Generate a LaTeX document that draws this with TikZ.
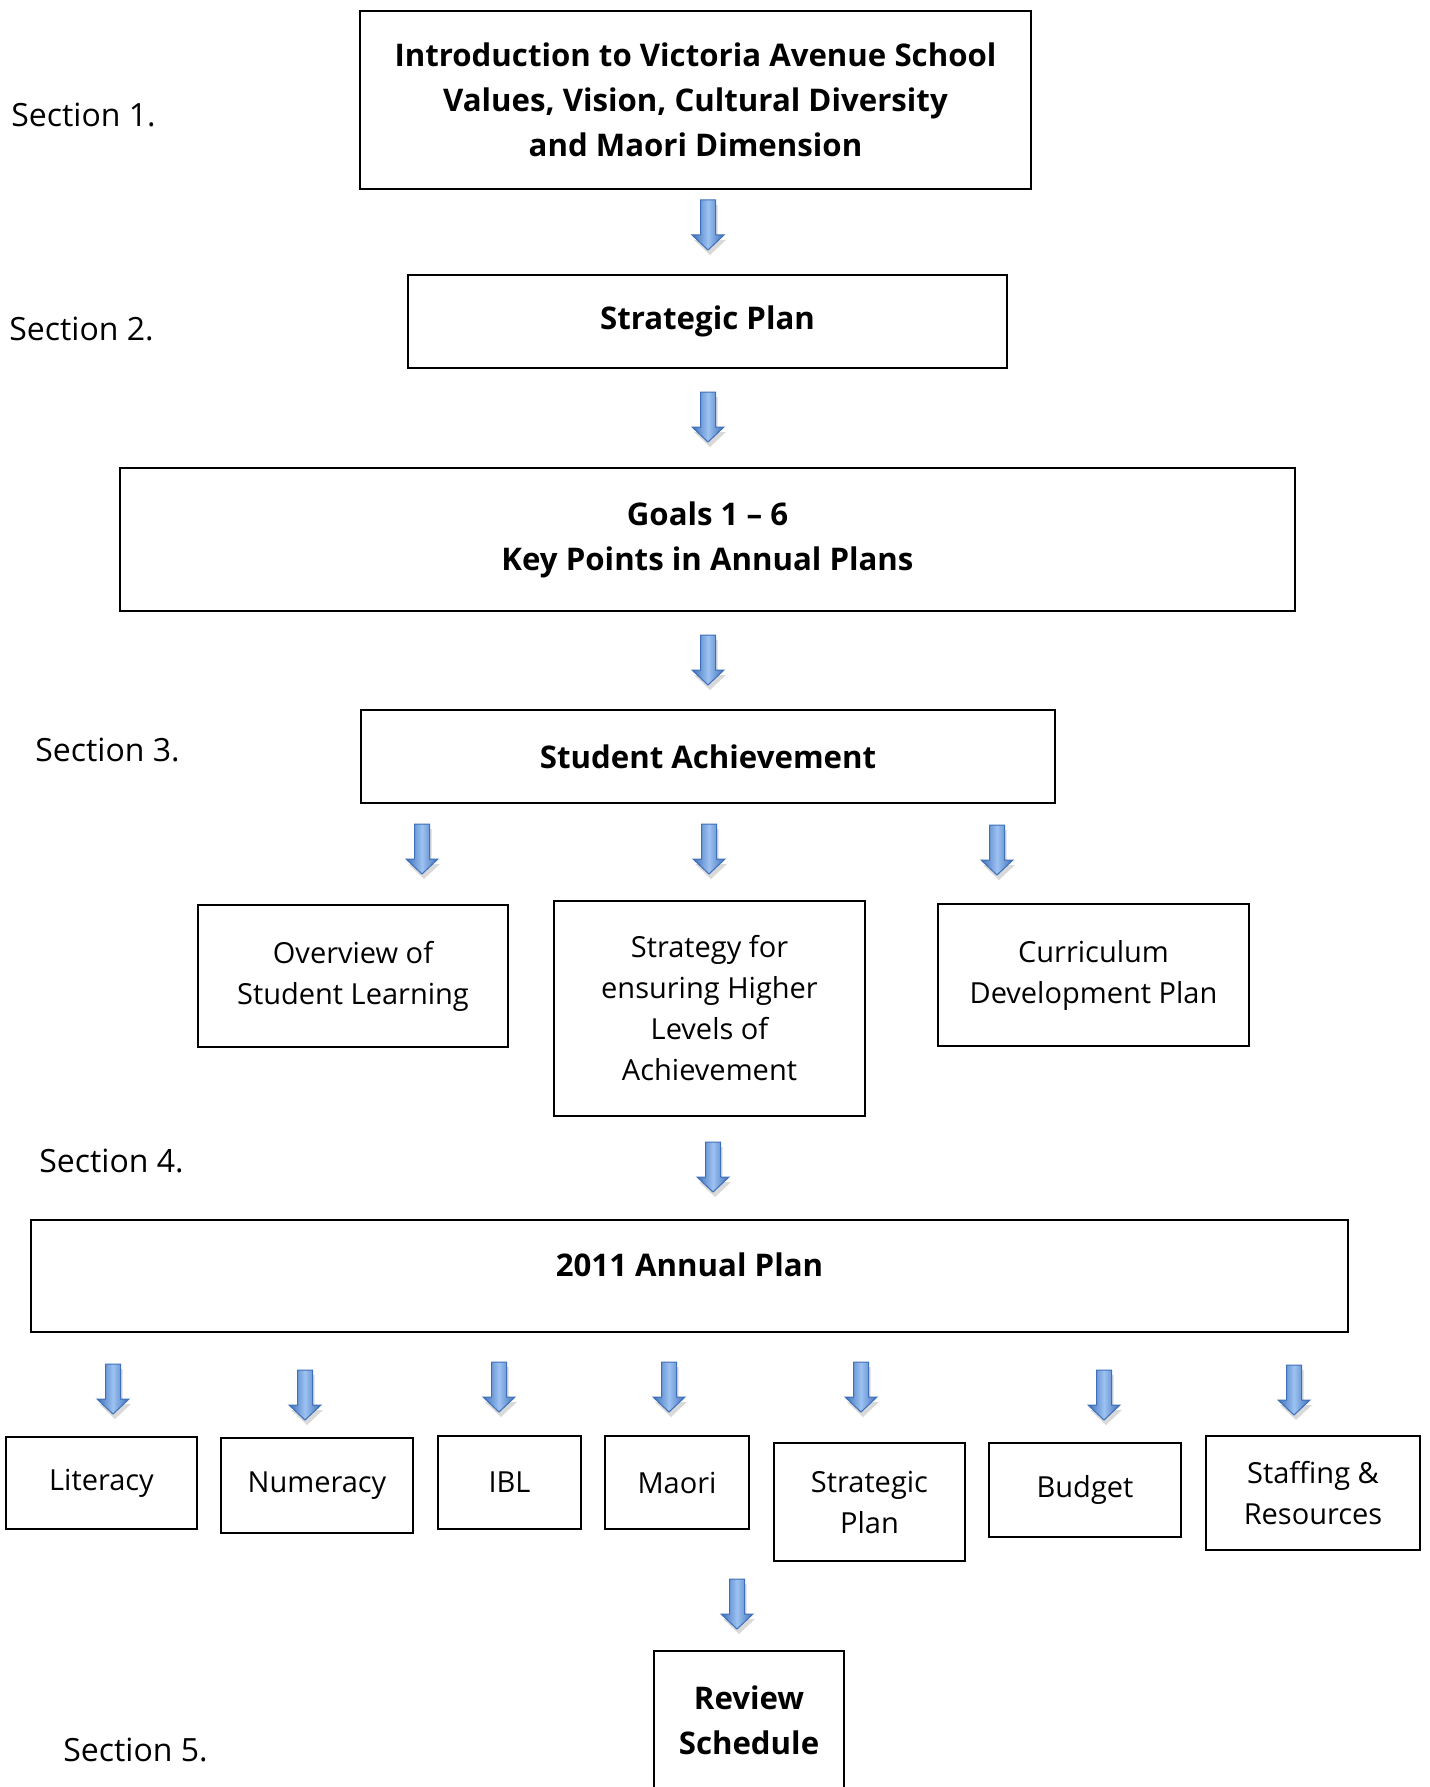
\documentclass[tikz,border=0pt]{standalone}
\usepackage{fontspec}
\setmainfont{Open Sans}
\usetikzlibrary{shadows}
\definecolor{arrowdark}{HTML}{3E6FB8}
\definecolor{arrowlight}{HTML}{9CC2F2}

\begin{document}
\begin{tikzpicture}[x = 1pt, y = -1pt,
    box/.style = {draw, line width = 1.2pt, inner sep = 0pt, align = center},
    boldtxt/.style = {font = \fontsize{15.6}{22.5}\selectfont\bfseries},
    plaintxt/.style = {font = \fontsize{14.5}{20.5}\selectfont},
    sectlabel/.style = {anchor = west, inner sep = 0pt, font = \fontsize{16}{19}\selectfont},
    arrowfill/.style = {left color = arrowdark, right color = arrowdark, middle color = arrowlight,
        draw = arrowdark, line width = 0.5pt,
        drop shadow = {shadow xshift = 1pt, shadow yshift = -2.5pt, opacity = 0.3}},
    dnarrow/.pic = {\path[arrowfill] (-3.75,0) -- (3.75,0) -- (3.75,17.5) -- (8,17.5)
        -- (0,25) -- (-8,17.5) -- (-3.75,17.5) -- cycle;}]
    \useasboundingbox (0,0) rectangle (714.5,893.5);

    % section labels
    \node[sectlabel] (sec1) at (5.5,57.5) {Section 1.};
    \node[sectlabel] (sec2) at (4.5,164.5) {Section 2.};
    \node[sectlabel] (sec3) at (17.5,375) {Section 3.};
    \node[sectlabel] (sec4) at (19.5,580.5) {Section 4.};
    \node[sectlabel] (sec5) at (31.5,875) {Section 5.};

    % main column
    \node[box, boldtxt, minimum width = 335.5pt, minimum height = 89pt] (intro) at (347.75,50)
        {Introduction to Victoria Avenue School\\Values, Vision, Cultural Diversity\\and Maori Dimension};
    \node[box, boldtxt, minimum width = 299.5pt, minimum height = 46.5pt] (plan) at (353.75,160.75) {Strategic Plan};
    \node[box, boldtxt, minimum width = 587.5pt, minimum height = 71.5pt] (goals) at (353.75,269.75)
        {Goals 1 – 6\\Key Points in Annual Plans};
    \node[box, boldtxt, minimum width = 347pt, minimum height = 46.5pt] (achieve) at (354,378.25) {Student Achievement};

    % section 3 boxes
    \node[box, plaintxt, minimum width = 155pt, minimum height = 71pt] (overview) at (176.5,488)
        {Overview of\\Student Learning};
    \node[box, plaintxt, minimum width = 155.5pt, minimum height = 107.5pt] (strategy) at (354.75,504.25)
        {Strategy for\\ensuring Higher\\Levels of\\Achievement};
    \node[box, plaintxt, minimum width = 155.5pt, minimum height = 71pt] (curric) at (546.75,487.5)
        {Curriculum\\Development Plan};

    % section 4
    \node[box, minimum width = 658.5pt, minimum height = 56pt] (annual) at (344.75,638) {};
    \node[boldtxt] (annual-text) at (344.75,632.5) {2011 Annual Plan};

    \node[box, plaintxt, minimum width = 95.5pt, minimum height = 46pt] (literacy) at (50.75,741.5) {Literacy};
    \node[box, plaintxt, minimum width = 96pt, minimum height = 47.5pt] (numeracy) at (158.5,742.75) {Numeracy};
    \node[box, plaintxt, minimum width = 71.5pt, minimum height = 46.5pt] (ibl) at (254.75,741.25) {IBL};
    \node[box, plaintxt, minimum width = 72pt, minimum height = 46.5pt] (maori) at (338.5,741.25) {Maori};
    \node[box, plaintxt, minimum width = 95.5pt, minimum height = 59pt] (plan2) at (434.75,751) {Strategic\\Plan};
    \node[box, plaintxt, minimum width = 96pt, minimum height = 47pt] (budget) at (542.5,745) {Budget};
    \node[box, plaintxt, minimum width = 107pt, minimum height = 57pt] (staffing) at (656.5,746.5)
        {Staffing \&\\Resources};

    % section 5
    \node[box, boldtxt, minimum width = 95pt, minimum height = 69.5pt] (review) at (374.5,860.25)
        {Review\\Schedule};

    % block arrows
    \foreach \x/\y in {354/100, 354/196, 354/317.5, 211/412, 354.5/412, 498.5/412.5, 356.5/571,
        56.5/682, 152.5/685, 249.5/681, 334.5/681, 430.5/681, 552/685, 647/682.5, 368.5/789.5}
        \pic at (\x,\y) {dnarrow};
\end{tikzpicture}
\end{document}
